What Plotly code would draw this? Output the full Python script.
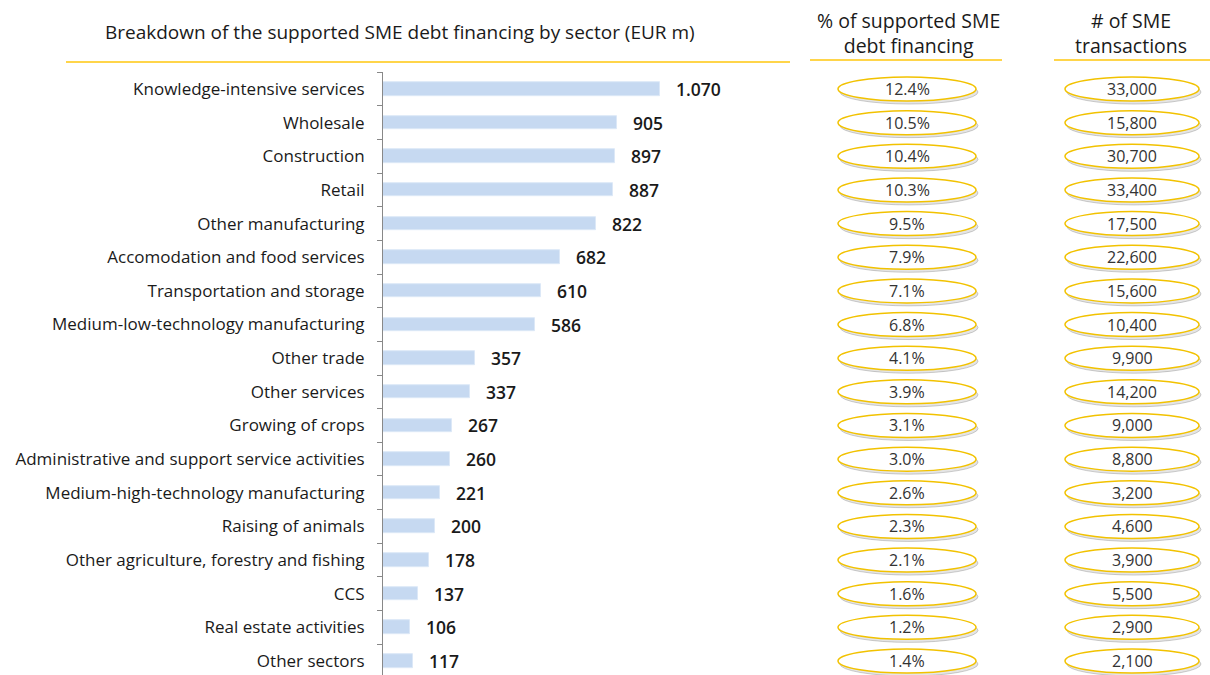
import plotly.graph_objects as go

# Sector breakdown of supported SME debt financing
sectors = [
    "Knowledge-intensive services", "Wholesale", "Construction", "Retail",
    "Other manufacturing", "Accomodation and food services",
    "Transportation and storage", "Medium-low-technology manufacturing",
    "Other trade", "Other services", "Growing of crops",
    "Administrative and support service activities",
    "Medium-high-technology manufacturing", "Raising of animals",
    "Other agriculture, forestry and fishing", "CCS",
    "Real estate activities", "Other sectors",
]
financing_eur_m = [1070, 905, 897, 887, 822, 682, 610, 586, 357, 337, 267,
                   260, 221, 200, 178, 137, 106, 117]
share_pct = [12.4, 10.5, 10.4, 10.3, 9.5, 7.9, 7.1, 6.8, 4.1, 3.9, 3.1,
             3.0, 2.6, 2.3, 2.1, 1.6, 1.2, 1.4]
transactions = [33000, 15800, 30700, 33400, 17500, 22600, 15600, 10400, 9900,
                14200, 9000, 8800, 3200, 4600, 3900, 5500, 2900, 2100]

W, H = 1210, 675
FONT = "Open Sans"
DARK = "#1a1a1a"
YELLOW = "#F2C200"
BAR = "#C6D9F1"

idx = list(range(len(sectors)))

fig = go.Figure()
fig.add_trace(go.Bar(
    x=financing_eur_m, y=idx, orientation="h", width=0.4,
    marker=dict(color=BAR, line=dict(color="#DCE8F7", width=1)),
    hoverinfo="skip", showlegend=False,
))

annotations = []
shapes = []

# value labels next to the bars
for i, v in zip(idx, financing_eur_m):
    annotations.append(dict(
        x=v, y=i, xref="x", yref="y", xanchor="left", yanchor="middle",
        xshift=14, text=f"{v:,}".replace(",", "."), showarrow=False,
        font=dict(family=FONT, size=17.5, color=DARK, weight=600),
    ))

# ellipse badges for the two side columns
cols = [(907, 138, [f"{p:.1f}%" for p in share_pct]),
        (1132, 134, [f"{n:,}" for n in transactions])]
for cx, ew, texts in cols:
    for i, t in zip(idx, texts):
        for dx, dy, line_col, fill in [(2, 3, "rgba(120,120,120,0.35)", "rgba(150,150,150,0.25)"),
                                       (0, 0, YELLOW, "white")]:
            shapes.append(dict(
                type="circle", xref="paper", yref="y",
                xsizemode="pixel", ysizemode="pixel",
                xanchor=(cx + dx) / W, yanchor=i,
                x0=-ew / 2, x1=ew / 2, y0=-12 - dy, y1=12 - dy,
                line=dict(color=line_col, width=1.5 if dx == 0 else 1),
                fillcolor=fill, layer="above",
            ))
        annotations.append(dict(
            x=cx / W, y=i, xref="paper", yref="y", xanchor="center",
            yanchor="middle", text=t, showarrow=False,
            font=dict(family=FONT, size=16, color="#333333"),
        ))

# headers
headers = [
    (400, 32, "Breakdown of the supported SME debt financing by sector (EUR m)", 19),
    (908, 33, "% of supported SME<br>debt financing", 19.5),
    (1131, 33, "# of SME<br>transactions", 19.5),
]
for hx, hy, txt, fs in headers:
    annotations.append(dict(
        x=hx / W, y=1 - hy / H, xref="paper", yref="paper",
        xanchor="center", yanchor="middle", text=txt, showarrow=False,
        font=dict(family=FONT, size=fs, color=DARK),
    ))

# yellow rules under the headers
for x0, x1, yy in [(66, 790, 62), (810, 1002, 60), (1054, 1210, 60)]:
    shapes.append(dict(type="line", xref="paper", yref="paper",
                       x0=x0 / W, x1=x1 / W, y0=1 - yy / H, y1=1 - yy / H,
                       line=dict(color="#FFD54A", width=2)))

fig.update_layout(
    width=W, height=H,
    margin=dict(l=0, r=0, t=0, b=0),
    paper_bgcolor="white", plot_bgcolor="white",
    font=dict(family=FONT, color=DARK),
    bargap=0,
    xaxis=dict(domain=[383 / W, 790 / W], range=[0, 1572], visible=False,
               fixedrange=True),
    yaxis=dict(
        domain=[0, (H - 72.2) / H], range=[17.416, -0.5],
        tickmode="array", tickvals=idx, ticktext=sectors, ticks="",
        ticklabelstandoff=14,
        tickfont=dict(family=FONT, size=17, color=DARK),
        showline=True, linecolor="#888888", linewidth=1,
        showgrid=False, zeroline=False,
        minor=dict(tickmode="array", tickvals=[i + 0.5 for i in idx[:-1]] + [-0.5],
                   ticks="outside", ticklen=5, tickcolor="#888888",
                   showgrid=False),
    ),
    annotations=annotations, shapes=shapes,
)

fig.write_html("out.html")
